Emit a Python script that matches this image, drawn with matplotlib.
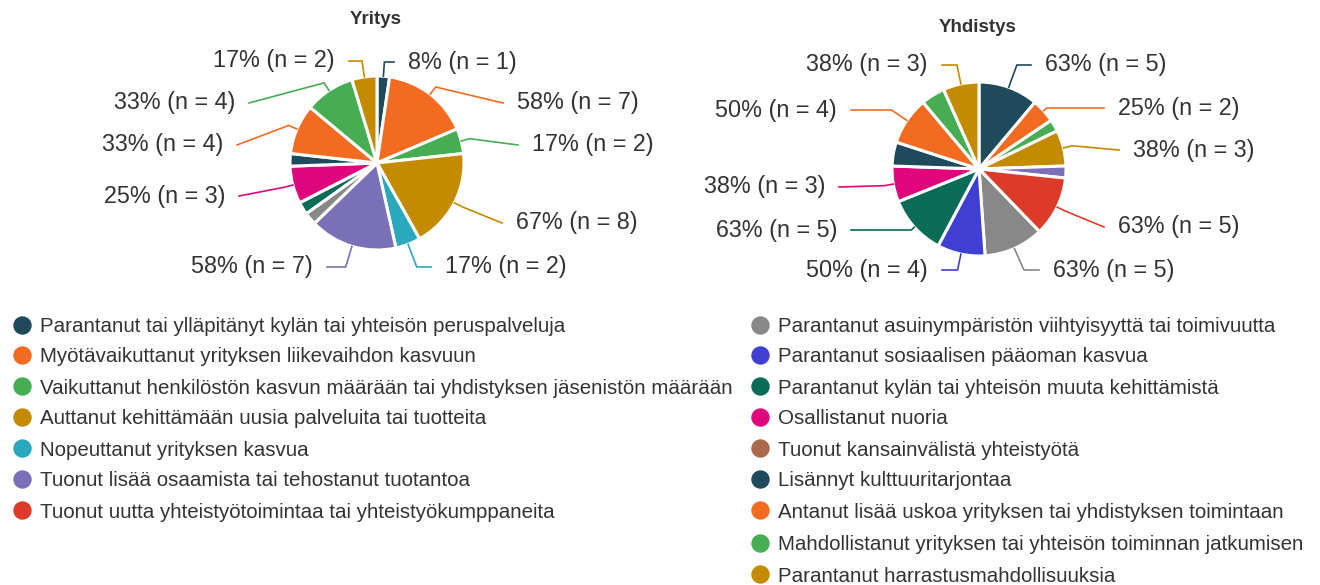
import math
import matplotlib
matplotlib.use("Agg")
import matplotlib.pyplot as plt

# ---------------- data ----------------
categories = [
    "Parantanut tai ylläpitänyt kylän tai yhteisön peruspalveluja",
    "Myötävaikuttanut yrityksen liikevaihdon kasvuun",
    "Vaikuttanut henkilöstön kasvun määrään tai yhdistyksen jäsenistön määrään",
    "Auttanut kehittämään uusia palveluita tai tuotteita",
    "Nopeuttanut yrityksen kasvua",
    "Tuonut lisää osaamista tai tehostanut tuotantoa",
    "Tuonut uutta yhteistyötoimintaa tai yhteistyökumppaneita",
    "Parantanut asuinympäristön viihtyisyyttä tai toimivuutta",
    "Parantanut sosiaalisen pääoman kasvua",
    "Parantanut kylän tai yhteisön muuta kehittämistä",
    "Osallistanut nuoria",
    "Tuonut kansainvälistä yhteistyötä",
    "Lisännyt kulttuuritarjontaa",
    "Antanut lisää uskoa yrityksen tai yhdistyksen toimintaan",
    "Mahdollistanut yrityksen tai yhteisön toiminnan jatkumisen",
    "Parantanut harrastusmahdollisuuksia",
]
yritys_n = [1, 7, 2, 8, 2, 7, 0, 1, 0, 1, 3, 0, 1, 4, 4, 2]
yhdistys_n = [5, 2, 1, 3, 0, 1, 5, 5, 4, 5, 3, 0, 2, 4, 2, 3]
yritys_respondents = 12
yhdistys_respondents = 8
titles = ["Yritys", "Yhdistys"]

# ---------------- styles ----------------
colors = [
    "#1e4a5b", "#f26b21", "#47ad52", "#c48a00", "#2aa8bd", "#7a70b8",
    "#dd3b2a", "#888888", "#3f3fd3", "#0a6b57", "#e0077c", "#a86a4a",
    "#1e4a5b", "#f26b21", "#47ad52", "#c48a00",
]
FONT = "Liberation Sans"
TEXT_COLOR = "#333333"
W, H = 1320, 585

# label anchors (pixel coords in image: x, y, ha); missing = no label
yritys_labels = {
    0: (408, 62, "left"), 1: (517, 103, "left"), 2: (532, 145, "left"),
    3: (516, 223, "left"), 4: (445, 267, "left"), 5: (313, 267, "right"),
    10: (225, 196, "right"), 13: (223, 145, "right"), 14: (235, 103, "right"),
    15: (335, 61, "right"),
}
yhdistys_labels = {
    0: (1045, 65, "left"), 1: (1118, 108, "left"), 3: (1133, 150, "left"),
    6: (1118, 227, "left"), 7: (1053, 270, "left"), 8: (928, 270, "right"),
    9: (837, 230, "right"), 10: (825, 187, "right"), 13: (837, 110, "right"),
    15: (928, 65, "right"),
}

fig = plt.figure(figsize=(W / 100, H / 100), dpi=100)
ax = fig.add_axes([0, 0, 1, 1])


def Y(y):
    return H - y


def pct_label(n, base):
    return f"{int(math.floor(100 * n / base + 0.5))}% (n = {n})"


def draw_pie(counts, base, center, radius, label_pos):
    idx = [i for i, c in enumerate(counts) if c > 0]
    vals = [counts[i] for i in idx]
    cols = [colors[i] for i in idx]
    cx, cy = center[0], Y(center[1])
    wedges, _ = ax.pie(vals, colors=cols, startangle=90, counterclock=False,
                       center=(cx, cy), radius=radius, frame=True,
                       wedgeprops=dict(edgecolor="white", linewidth=2.2))
    for w, i in zip(wedges, idx):
        pos = label_pos.get(i)
        if pos is None:
            continue
        tx, ty, ha = pos
        ang = math.radians((w.theta1 + w.theta2) / 2)
        ca, sa = math.cos(ang), math.sin(ang)
        p0 = (cx + radius * ca, cy + radius * sa)
        yt = Y(ty)
        t = None
        if abs(sa) > 0.3:
            tt = (yt - cy) / sa
            if radius + 4 < tt < radius + 30:
                t = tt
        if t is None:
            t = radius + 9
        p1 = (cx + t * ca, cy + t * sa)
        p2 = (tx - 14 if ha == "left" else tx + 14, yt)
        ax.plot([p0[0], p1[0], p2[0]], [p0[1], p1[1], p2[1]],
                color=colors[i], lw=1.2, solid_joinstyle="miter", zorder=1)
        ax.text(tx, yt, pct_label(counts[i], base), ha=ha, va="center",
                fontsize=16.8, family=FONT, color=TEXT_COLOR)


draw_pie(yritys_n, yritys_respondents, (377, 163), 87, yritys_labels)
draw_pie(yhdistys_n, yhdistys_respondents, (979, 169), 87, yhdistys_labels)

ax.text(376, Y(20), titles[0], ha="center", va="center", fontsize=13.5,
        fontweight="bold", family=FONT, color="#333333")
ax.text(978, Y(27), titles[1], ha="center", va="center", fontsize=13.5,
        fontweight="bold", family=FONT, color="#333333")

# legend
left_rows = [325, 355, 386, 417, 448, 479, 510]
right_rows = [325, 355, 386, 417, 448, 479, 510, 543, 574]
for k, i in enumerate(range(7)):
    ax.scatter([22], [Y(left_rows[k])], s=150, color=colors[i], zorder=3)
    ax.text(40, Y(left_rows[k]), categories[i], ha="left", va="center_baseline",
            fontsize=14.8, family=FONT, color=TEXT_COLOR)
for k, i in enumerate(range(7, 16)):
    ax.scatter([760], [Y(right_rows[k])], s=150, color=colors[i], zorder=3)
    ax.text(778, Y(right_rows[k]), categories[i], ha="left", va="center_baseline",
            fontsize=14.8, family=FONT, color=TEXT_COLOR)

ax.set_xlim(0, W)
ax.set_ylim(0, H)
ax.set_aspect("equal")
ax.axis("off")
fig.savefig("out.png", dpi=100, facecolor="white")
